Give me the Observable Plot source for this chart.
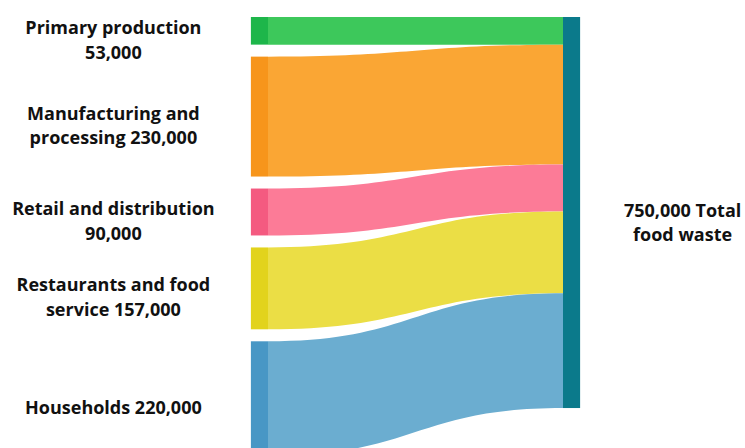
<!DOCTYPE html>
<html>
<head>
<meta charset="utf-8">
<script src="https://cdn.jsdelivr.net/npm/d3@7"></script>
<script src="https://cdn.jsdelivr.net/npm/@observablehq/plot@0.6"></script>
<style>
  html, body { margin: 0; padding: 0; background: #fff; overflow: hidden; }
  #chart svg { display: block; }
</style>
</head>
<body>
<div id="chart"></div>
<script>
// ---- data (values in thousands of tonnes) ----
const sources = ["Primary production", "Manufacturing and processing", "Retail and distribution", "Restaurants and food service", "Households"];
const labelText = ["Primary production\n", "Manufacturing and\nprocessing ", "Retail and distribution\n", "Restaurants and food\nservice ", "Households "];
const values = [53, 230, 90, 157, 220];
const target = "Total food waste";
const flowColors = ["#3dc85b", "#faa634", "#fc7b97", "#ebde45", "#6badd0"];
const nodeColors = ["#1db64a", "#f7951b", "#f45a80", "#e2d31c", "#4897c5"];
const targetColor = "#0b7a8b";

// ---- layout (in value units) ----
const pad = 23;          // gap between left nodes, in thousands
const nodeW = 0.058;     // node width in x-domain units
const total = d3.sum(values);
const fmt = v => d3.format(",")(v * 1000);

let cs = 0, ct = 0;
const leftNodes = sources.map((name, i) => {
  const y1 = cs; cs += values[i] + pad;
  return {name, value: values[i], y1, y2: y1 + values[i], fill: nodeColors[i], label: labelText[i] + fmt(values[i])};
});
const links = [];
sources.forEach((name, i) => {
  const t1 = ct; ct += values[i];
  links.push({name, x: 0, y1: leftNodes[i].y1, y2: leftNodes[i].y2, fill: flowColors[i]});
  links.push({name, x: 1, y1: t1, y2: t1 + values[i], fill: flowColors[i]});
});
const rightNode = [{name: target, y1: 0, y2: total, fill: targetColor, label: fmt(total) + " Total\nfood waste"}];

const font = {fontFamily: "'Open Sans', Lato, sans-serif", fontWeight: "bold", fontSize: 18, lineHeight: 1.38, fill: "#111"};

const chart = Plot.plot({
  width: 745,
  height: 448,
  margin: 0,
  x: {domain: [0, 1], range: [268, 563], axis: null},
  y: {domain: [0, total + pad * (values.length - 1)], range: [17, 456], axis: null},
  color: {type: "identity"},
  style: {background: "#fff", overflow: "hidden"},
  marks: [
    Plot.areaY(links, {x: "x", y1: "y1", y2: "y2", z: "name", fill: "fill", curve: "bump-x"}),
    Plot.rect(leftNodes, {x1: -nodeW, x2: 0, y1: "y1", y2: "y2", fill: "fill"}),
    Plot.rect(rightNode, {x1: 1, x2: 1 + nodeW, y1: "y1", y2: "y2", fill: "fill"}),
    Plot.text(leftNodes, {x: -nodeW, y: d => (d.y1 + d.y2) / 2, text: "label", textAnchor: "middle", dx: -138, dy: 7, ...font}),
    Plot.text(rightNode, {x: 1 + nodeW, y: d => (d.y1 + d.y2) / 2, text: "label", textAnchor: "middle", dx: 102, dy: 8, ...font})
  ]
});
document.getElementById("chart").appendChild(chart);
</script>
</body>
</html>
